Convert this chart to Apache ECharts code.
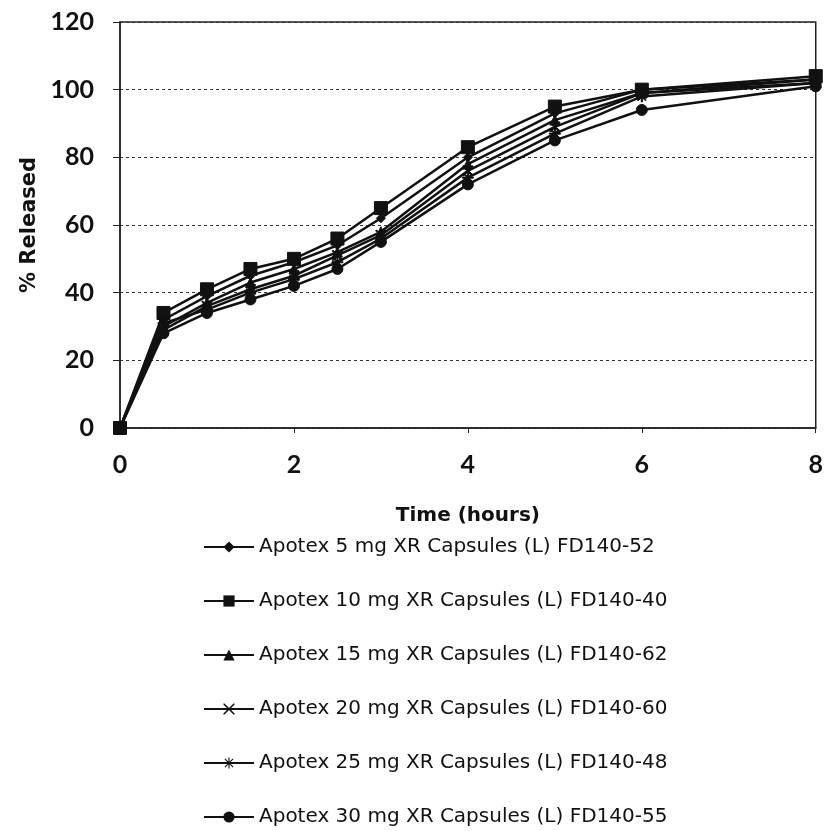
<!DOCTYPE html>
<html>
<head>
<meta charset="utf-8">
<script src="https://cdn.jsdelivr.net/npm/echarts@6/dist/echarts.min.js"></script>
<style>
  html, body { margin: 0; padding: 0; background: #fff; }
  #chart { width: 826px; height: 831px; }
</style>
</head>
<body>
<div id="chart"></div>
<script>
// time points (hours)
var hours = [0, 0.5, 1, 1.5, 2, 2.5, 3, 4, 5, 6, 8]
// % released per lot
var mg5 = [0, 32, 39, 45, 49, 54, 62, 80, 93, 100, 103]
var mg10 = [0, 34, 41, 47, 50, 56, 65, 83, 95, 100, 104]
var mg15 = [0, 30, 37, 43, 47, 52, 58, 78, 91, 99, 103]
var mg20 = [0, 29, 36, 41, 45, 51, 57, 76, 89, 99, 102]
var mg25 = [0, 31, 35, 40, 44, 49, 56, 74, 87, 98, 102]
var mg30 = [0, 28, 34, 38, 42, 47, 55, 72, 85, 94, 101]
var names = [
  'Apotex 5 mg XR Capsules (L) FD140-52',
  'Apotex 10 mg XR Capsules (L) FD140-40',
  'Apotex 15 mg XR Capsules (L) FD140-62',
  'Apotex 20 mg XR Capsules (L) FD140-60',
  'Apotex 25 mg XR Capsules (L) FD140-48',
  'Apotex 30 mg XR Capsules (L) FD140-55'
]
var yTicks = [0, 20, 40, 60, 80, 100, 120]
var xTicks = [0, 2, 4, 6, 8]

// marker shapes
var cross = 'path://M0,0L1,0L10,9L10,10L9,10L0,1ZM10,0L10,1L1,10L0,10L0,9L9,0Z'
var asterisk = 'path://M4.5,0H5.5V10H4.5ZM0,4.5H10V5.5H0ZM1,1.7L1.7,1L9,8.3L8.3,9ZM8.3,1L9,1.7L1.7,9L1,8.3Z'

function pair (vals) {
  return hours.map(function (h, i) { return [h, vals[i]] })
}

function line (name, vals, symbol, size) {
  return {
    name: name,
    type: 'line',
    data: pair(vals),
    symbol: symbol,
    symbolSize: size,
    lineStyle: { color: '#111', width: 2.5 },
    itemStyle: { color: '#111', borderColor: '#111' }
  }
}

var tickFont = 'Lato, "Open Sans", sans-serif'
var textFont = '"DejaVu Sans", sans-serif'
var chart = echarts.init(document.getElementById('chart'))
chart.setOption({
  animation: false,
  backgroundColor: '#fff',
  grid: {
    left: 120,
    right: 8,
    top: 22,
    bottom: 403,
    show: true,
    borderColor: '#222',
    borderWidth: 1.5
  },
  legend: {
    orient: 'vertical',
    left: 198,
    top: 532,
    height: 300,
    itemWidth: 50,
    itemHeight: 14,
    itemGap: 34,
    textStyle: { fontFamily: textFont, fontSize: 20, color: '#111' },
    data: names
  },
  xAxis: {
    type: 'value',
    min: 0,
    max: 8,
    interval: 2,
    name: 'Time (hours)',
    nameLocation: 'middle',
    nameGap: 78,
    nameTextStyle: { fontFamily: textFont, fontSize: 20, fontWeight: 'bold', color: '#111' },
    axisLine: { lineStyle: { color: '#222', width: 1.5 } },
    axisTick: { show: true, length: 5, lineStyle: { color: '#222' } },
    axisLabel: {
      fontFamily: tickFont, fontSize: 25, fontWeight: 'bold', color: '#111', margin: 24,
      formatter: function (v) { return xTicks.indexOf(v) >= 0 ? String(v) : '' }
    },
    splitLine: { show: false }
  },
  yAxis: {
    type: 'value',
    min: 0,
    max: 120,
    interval: 20,
    name: '% Released',
    nameLocation: 'middle',
    nameGap: 80,
    nameTextStyle: { fontFamily: textFont, fontSize: 21, fontWeight: 'bold', color: '#111' },
    axisLine: { show: true, lineStyle: { color: '#222', width: 1.5 } },
    axisTick: { show: true, length: 7, lineStyle: { color: '#222' } },
    axisLabel: {
      fontFamily: tickFont, fontSize: 25, fontWeight: 'bold', color: '#111', margin: 26,
      formatter: function (v) { return yTicks.indexOf(v) >= 0 ? String(v) : '' }
    },
    splitLine: { show: true, lineStyle: { color: '#333', type: [3, 3], width: 1 } }
  },
  series: [
    line(names[0], mg5, 'diamond', 9),
    line(names[1], mg10, 'rect', 13),
    line(names[2], mg15, 'triangle', 10),
    line(names[3], mg20, cross, 10),
    line(names[4], mg25, asterisk, 11),
    line(names[5], mg30, 'circle', 11)
  ]
})
</script>
</body>
</html>
